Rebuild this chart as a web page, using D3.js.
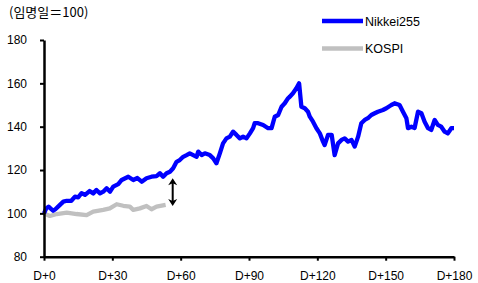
<!DOCTYPE html>
<html>
<head>
<meta charset="utf-8">
<script src="https://cdn.jsdelivr.net/npm/d3@7"></script>
<style>
  body { margin: 0; background: #fff; }
  svg text { font-family: "Liberation Sans", Arial, sans-serif; }
</style>
</head>
<body>
<div id="chart"></div>
<script>
// values (index, D+0 = 100)
let nikkeiDays = [0,1,2,4,5,7,8.5,10,12,13.6,15,16.5,18,20,21.6,23,24.6,26,27.5,29,30.4,32.6,34.1,37,39.2,41,42.9,45,47.2,49.4,50.9,52.3,53.8,55.3,56.7,58.2,59.6,61.1,62.6,64,65.5,67,67.7,69.2,70.6,72.8,74.3,75.7,77.2,78.6,80.1,81.6,83,84.5,86,87.4,88.9,90.4,91.8,92.5,94,96.2,98.4,99.9,101.3,102.8,104.3,105.7,107.1,107.9,109.3,110.8,112,113,114.5,115.9,116.7,118.1,119.6,121.1,122.5,123.2,124.7,126.3,127.6,129.1,130.6,132,133.5,135,136.4,137.9,139.3,140.8,142.2,143.7,145.2,146.6,148.8,150.3,152.5,153.9,156.1,157.6,159.1,159.8,161.3,162.7,164.2,165.7,167.1,168.6,170,171.5,172.9,174.4,175.9,177.3,178.8,180];
let nikkeiValues = [100,102.3,103.1,101.2,101.9,103.9,105.4,105.8,105.8,107.7,107.4,109.3,108.5,110.3,109.2,110.8,109.2,110,111.6,110,112.3,113.5,115.4,116.9,115.4,116.3,114.6,116.2,116.9,117.2,118.5,116.9,118.5,119.2,120.8,123.8,124.6,126.1,126.9,127.7,126.9,126.1,128.5,126.9,127.7,126.9,125.4,123.1,127.7,132.3,134.6,135.4,137.7,136.2,134.6,135.4,134.6,136.9,139.3,141.6,141.6,140.8,139.3,139.3,144.6,145.4,149.2,150.8,153.1,153.8,155.4,157.7,160,149.2,148.5,146.9,144.6,142.3,139.3,136.9,133.1,131.5,136.2,136.2,126.9,132.3,133.9,134.6,133.1,133.9,130.8,135.4,141.6,143.1,143.9,145.4,146.2,146.9,147.7,148.5,150,150.8,150,146.9,143.9,139.3,140,139.4,146.9,146.2,142.3,139.3,138.5,143.1,140.8,140,137.7,136.9,139.3,139.3];

let kospiDays = [0,2.6,5.6,10,14.3,18.7,21.6,26,28.9,31.9,34.8,37.7,39.2,42.1,45,47.2,49.4,53.4];
let kospiValues = [100,98.8,99.7,100.3,99.7,99.2,100.8,101.6,102.3,104.2,103.5,103.1,101.6,102.3,103.4,101.9,103.1,103.9];

let xTicks = [0,30,60,90,120,150,180];
let yTicks = [80,100,120,140,160,180];

// gap arrow between the two series
let gapDay = 56.5;
let gapFrom = 116.2;
let gapTo = 103.4;

let width = 478;
let height = 283;
let margin = ({top: 40, right: 24, bottom: 26.3, left: 44});

let svg = d3.select("#chart")
    .append("svg")
    .attr("width", width)
    .attr("height", height);

let xScale = d3.scaleLinear()
    .domain([0, 180])
    .range([margin.left, width - margin.right]);

let yScale = d3.scaleLinear()
    .domain([80, 180])
    .range([height - margin.bottom, margin.top]);

let nikkei = nikkeiDays.map(function(d, i) { return {day: d, value: nikkeiValues[i]}; });
let kospi = kospiDays.map(function(d, i) { return {day: d, value: kospiValues[i]}; });

let line = d3.line()
    .x(function(d) { return xScale(d.day); })
    .y(function(d) { return yScale(d.value); });

svg.append("path")
    .datum(kospi)
    .attr("d", line)
    .attr("fill", "none")
    .attr("stroke", "#c0c0c0")
    .attr("stroke-width", 4.3)
    .attr("stroke-linejoin", "round");

svg.append("path")
    .datum(nikkei)
    .attr("d", line)
    .attr("fill", "none")
    .attr("stroke", "#0000ff")
    .attr("stroke-width", 4.3)
    .attr("stroke-linejoin", "round");

// axes
let yAxis = d3.axisLeft(yScale)
    .tickValues(yTicks)
    .tickSize(4)
    .tickSizeOuter(0)
    .tickPadding(13);

let xAxis = d3.axisBottom(xScale)
    .tickValues(xTicks)
    .tickSize(4)
    .tickSizeOuter(0)
    .tickPadding(11)
    .tickFormat(function(d) { return "D+" + d; });

let gy = svg.append("g")
    .attr("transform", "translate(" + margin.left + ",0)")
    .call(yAxis);

let gx = svg.append("g")
    .attr("transform", "translate(0," + (height - margin.bottom) + ")")
    .call(xAxis);

[gx, gy].forEach(function(g) {
    g.select(".domain").attr("stroke", "#000").attr("stroke-width", 2.5);
    g.selectAll(".tick line").attr("stroke", "#000").attr("stroke-width", 2);
    g.selectAll(".tick text")
        .attr("fill", "#000")
        .style("font-size", "12px")
        .style("font-family", "'Liberation Sans', Arial, sans-serif");
});

// double arrow
let ax = xScale(gapDay);
let ay1 = yScale(gapFrom);
let ay2 = yScale(gapTo);
svg.append("line")
    .attr("x1", ax).attr("x2", ax)
    .attr("y1", ay1 + 4).attr("y2", ay2 - 4)
    .attr("stroke", "#000")
    .attr("stroke-width", 2);
svg.append("path")
    .attr("d", "M" + ax + "," + ay1 + "L" + (ax - 4.5) + "," + (ay1 + 7) + "L" + ax + "," + (ay1 + 5) + "L" + (ax + 4.5) + "," + (ay1 + 7) + "Z")
    .attr("fill", "#000");
svg.append("path")
    .attr("d", "M" + ax + "," + ay2 + "L" + (ax - 4.5) + "," + (ay2 - 7) + "L" + ax + "," + (ay2 - 5) + "L" + (ax + 4.5) + "," + (ay2 - 7) + "Z")
    .attr("fill", "#000");

// unit label
svg.append("text")
    .attr("x", 9)
    .attr("y", 17)
    .text("(임명일＝100)")
    .style("font-family", "'Noto Sans CJK KR', sans-serif")
    .style("font-size", "13px")
    .style("fill", "#000");

// legend
let legend = [
    {name: "Nikkei255", color: "#0000ff"},
    {name: "KOSPI", color: "#c0c0c0"}
];

let lg = svg.append("g");
lg.selectAll(".key")
    .data(legend)
    .enter()
    .append("line")
    .attr("x1", 322)
    .attr("x2", 363)
    .attr("y1", function(d, i) { return 21 + i * 27.5; })
    .attr("y2", function(d, i) { return 21 + i * 27.5; })
    .attr("stroke", function(d) { return d.color; })
    .attr("stroke-width", 4.5);

lg.selectAll(".key_labels")
    .data(legend)
    .enter()
    .append("text")
    .attr("x", 365)
    .attr("y", function(d, i) { return 25.5 + i * 27.5; })
    .text(function(d) { return d.name; })
    .style("font-size", "12.5px")
    .style("fill", "#000");
</script>
</body>
</html>
